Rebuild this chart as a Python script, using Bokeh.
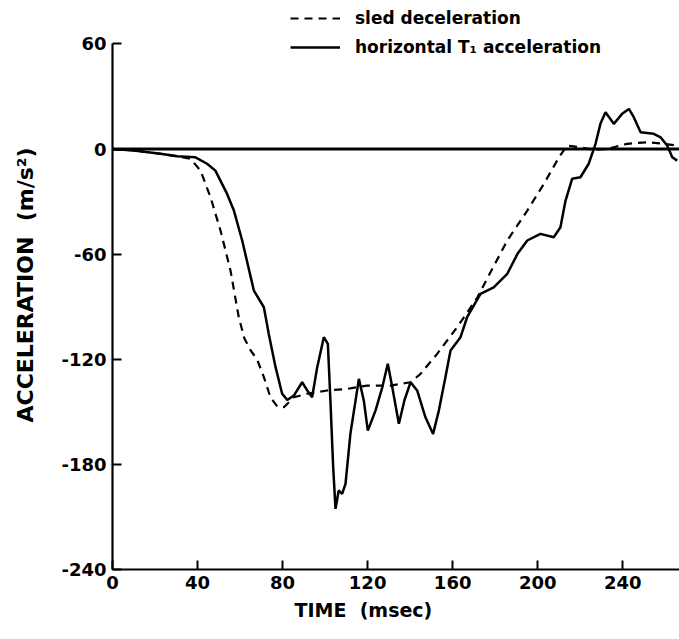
from bokeh.plotting import figure
from bokeh.models import Range1d, FixedTicker, Span, Legend, LegendItem, Title
from bokeh.embed import file_html
from bokeh.resources import INLINE

# ---- data ----
t1_time = [0, 10, 22.6, 30.4, 39, 44.5, 48.4, 53.9, 57.1, 61, 66.5, 71.2, 73.5, 76.7,
           79.8, 82.2, 85.3, 89.2, 91.6, 93.9, 96.3, 99.4, 101.3, 102.5, 103.8, 104.9,
           106.4, 108, 109.6, 111.9, 115.9, 118.2, 120.1, 123.7, 126.9, 129.5, 131.6,
           134.7, 137.3, 140.2, 143.3, 147.2, 150.8, 153.5, 156.6, 159, 163.7, 166.8,
           173.1, 179.3, 185.7, 190.5, 195.1, 201.3, 207.6, 210.7, 213.1, 216.2, 220.1,
           224, 227.2, 229.5, 231.9, 235.8, 239.7, 242.9, 245.2, 248.4, 254.6, 257.8,
           260.9, 263.3, 265.6]
t1_accel = [0, -0.8, -2.7, -4.1, -4.7, -8.4, -12.3, -25.6, -35.1, -52.2, -80.8, -90.3,
            -105.5, -124.5, -139.7, -143.2, -140.7, -133.1, -137.8, -141.7, -124.5,
            -107.4, -111.2, -143.5, -181.6, -205.4, -194.9, -196.8, -191.1, -162.6,
            -131.2, -143.5, -160.7, -149.3, -136, -122.6, -136, -156.8, -143.5, -133.1,
            -137.8, -153.1, -162.6, -149.3, -130.2, -115, -107.4, -96, -82.6, -78.9,
            -71.2, -59.8, -52.2, -48.4, -50.3, -44.6, -29.4, -17, -16.1, -8.4, 3, 14.4,
            21, 14.4, 20.1, 22.9, 18.2, 9.6, 8.7, 6.7, 2, -4.7, -6.6]

sled_time = [0, 10, 22.6, 30.4, 36.7, 41.4, 46.1, 50.8, 55.5, 59.4, 62, 65, 68, 71.2,
             74.3, 77.5, 80.6, 85.3, 91.6, 101, 110.4, 119.8, 130.8, 140.2, 144.9,
             152.7, 162.1, 171.5, 176.2, 185.7, 195.1, 202.9, 210, 213.8, 220.1, 226.4,
             232.7, 242.1, 251.5, 259.4, 265.6]
sled_accel = [0, -0.8, -2.7, -4.1, -5.6, -12.3, -27.5, -46.5, -69.3, -96, -108, -115,
              -120, -130.2, -141.7, -147, -147.4, -141.7, -139.7, -137.8, -136.9, -135,
              -135, -133.1, -128.3, -116.9, -101.7, -85, -74, -52.2, -35.1, -19.9, -4.7,
              2, 1, -0.5, 0.1, 3, 3.9, 3, 2]

x_ticks = [0, 40, 80, 120, 160, 200, 240]
y_ticks = [60, 0, -60, -120, -180, -240]
y_tick_labels = {60: "60", 0: "0", -60: "-60", -120: "-120", -180: "-180", -240: "-240"}

FONT = "DejaVu Sans"

p = figure(width=679, height=635, output_backend="svg", toolbar_location=None,
           x_range=Range1d(0, 266.7), y_range=Range1d(-240, 84.8),
           min_border_left=112, min_border_right=0, min_border_top=0, min_border_bottom=66)
p.outline_line_color = None
p.xgrid.visible = False
p.ygrid.visible = False

for ax in (p.xaxis[0], p.yaxis[0]):
    ax.axis_line_width = 2.2
    ax.axis_line_color = "black"
    ax.major_tick_in = 9
    ax.major_tick_out = 0
    ax.major_tick_line_width = 2
    ax.minor_tick_line_color = None
    ax.major_label_text_font = FONT
    ax.major_label_text_font_size = "18px"
    ax.major_label_text_font_style = "bold"
    ax.major_label_text_color = "black"
    ax.major_label_standoff = 6

p.xaxis.ticker = FixedTicker(ticks=x_ticks)
p.yaxis.ticker = FixedTicker(ticks=y_ticks)
p.yaxis.major_label_overrides = y_tick_labels
p.yaxis.bounds = (-240, 60)

p.yaxis.axis_label = "ACCELERATION\u00a0\u00a0(m/s\u00b2)"
p.yaxis.axis_label_text_font = FONT
p.yaxis.axis_label_text_font_size = "22px"
p.yaxis.axis_label_text_font_style = "bold"
p.yaxis.axis_label_text_color = "black"
p.yaxis.axis_label_standoff = 20

xtitle = Title(text="TIME\u00a0\u00a0(msec)", align="left", offset=182,
               text_font=FONT, text_font_size="19px", text_font_style="bold",
               text_color="black")
p.add_layout(xtitle, "below")

zero = Span(location=0, dimension="width", line_color="black", line_width=3)
p.add_layout(zero)

r_sled = p.line(sled_time, sled_accel, line_color="black", line_width=2.2, line_dash="8 6")
r_t1 = p.line(t1_time, t1_accel, line_color="black", line_width=2.5)

legend = Legend(items=[LegendItem(label="sled deceleration", renderers=[r_sled]),
                       LegendItem(label="horizontal T\u2081 acceleration", renderers=[r_t1])],
                location=(178, 512), orientation="vertical",
                border_line_color=None, background_fill_alpha=0,
                padding=0, margin=0, spacing=9, glyph_width=50, glyph_height=20,
                label_height=20, label_standoff=15,
                label_text_font=FONT, label_text_font_size="17px",
                label_text_font_style="bold", label_text_color="black")
p.add_layout(legend)

open("out.html", "w").write(file_html(p, INLINE))
